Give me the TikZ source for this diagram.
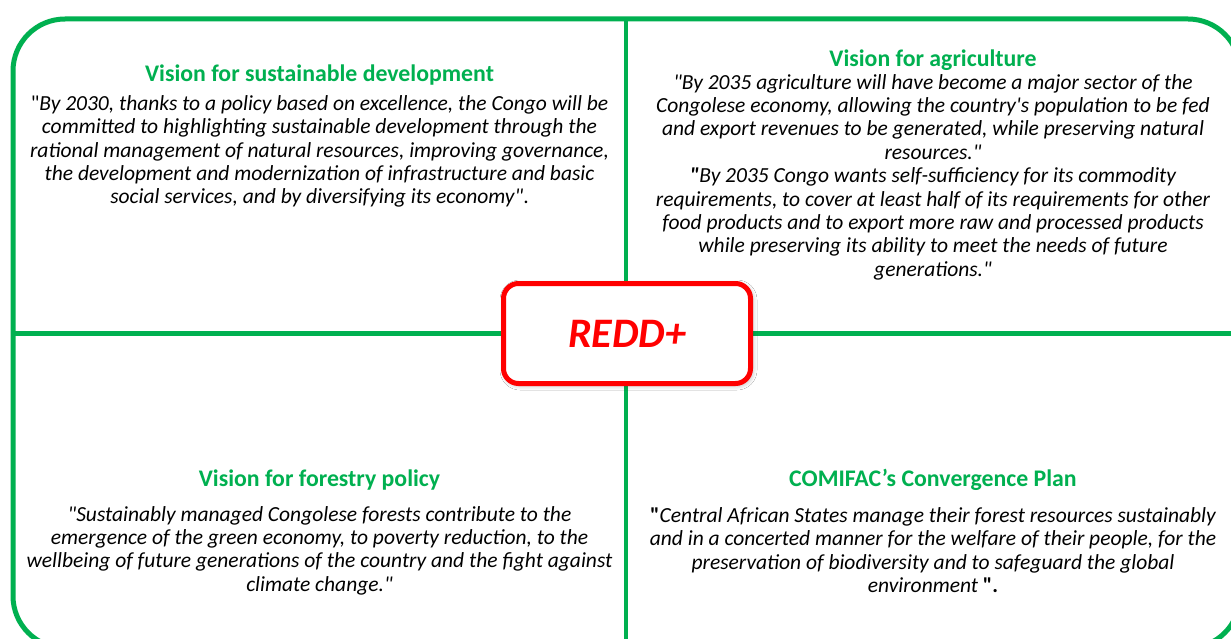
\documentclass[tikz,border=0pt]{standalone}
\usepackage{fontspec}
\setmainfont{Carlito}[Ligatures=TeXOff]
\usetikzlibrary{shadows.blur}
\definecolor{officegreen}{HTML}{00B050}
\definecolor{reddred}{HTML}{FF0000}
\begin{document}
\begin{tikzpicture}[x=1pt,y=-1pt,
  frame/.style={draw=officegreen,line width=5pt,rounded corners=52pt},
  divider/.style={draw=officegreen,line width=4.5pt},
  title/.style={font=\fontsize{23.8}{26}\selectfont\bfseries,text=officegreen,inner sep=0pt,anchor=center},
  body/.style={font=\fontsize{21.5}{23.4}\selectfont\itshape,align=center,inner sep=0pt,anchor=center},
  core/.style={draw=reddred,line width=5pt,fill=white,rounded corners=15pt,
    minimum width=247pt,minimum height=100pt,
    font=\fontsize{42}{46}\selectfont\bfseries\itshape,text=reddred,
    blur shadow={shadow xshift=1.5pt,shadow yshift=-1.5pt,shadow blur radius=5pt,shadow opacity=35}}
]
\clip (0,0) rectangle (1231,639);
\fill[white] (0,0) rectangle (1231,639);
\draw[frame] (13,19) rectangle (1240,648);
\coordinate (vt) at (626,19);
\coordinate (vb) at (626,648);
\coordinate (hl) at (13,333.5);
\coordinate (hr) at (1240,333.5);
\draw[divider] (vt) -- (vb);
\draw[divider] (hl) -- (hr);
\node[core] (redd) at (627,333.5) {REDD+};

\node[title] (t1) at (319.5,75) {Vision for sustainable development};
\node[body] (b1) at (319.5,151.5) {{\upshape"}By 2030, thanks to a policy based on excellence, the Congo will be\\
committed to highlighting sustainable development through the\\
rational management of natural resources, improving governance,\\
the development and modernization of infrastructure and basic\\
social services, and by diversifying its economy"{\upshape.}};

\node[title] (t2) at (933,60) {Vision for agriculture};
\node[body] (b2) at (933,177) {"By 2035 agriculture will have become a major sector of the\\
Congolese economy, allowing the country's population to be fed\\
and export revenues to be generated, while preserving natural\\
resources."\\
{\bfseries"}By 2035 Congo wants self-sufficiency for its commodity\\
requirements, to cover at least half of its requirements for other\\
food products and to export more raw and processed products\\
while preserving its ability to meet the needs of future\\
generations."};

\node[title] (t3) at (319.5,480) {Vision for forestry policy};
\node[body] (b3) at (319.5,550.5) {"Sustainably managed Congolese forests contribute to the\\
emergence of the green economy, to poverty reduction, to the\\
wellbeing of future generations of the country and the fight against\\
climate change."};

\node[title] (t4) at (933,480) {COMIFAC’s Convergence Plan};
\node[body] (b4) at (933,550) {{\bfseries\upshape"}Central African States manage their forest resources sustainably\\
and in a concerted manner for the welfare of their people, for the\\
preservation of biodiversity and to safeguard the global\\
environment {\bfseries\upshape".}};
\end{tikzpicture}
\end{document}
